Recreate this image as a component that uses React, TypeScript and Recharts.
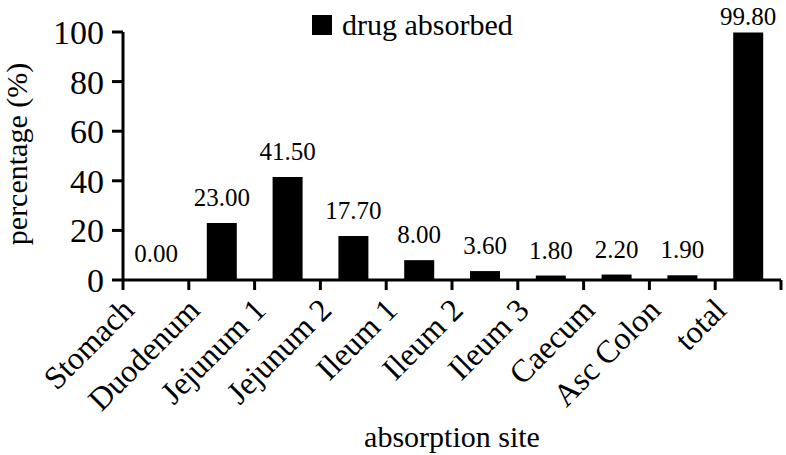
import { Bar, BarChart, LabelList, Legend, XAxis, YAxis, Label } from "recharts";

const sites = [
  "Stomach",
  "Duodenum",
  "Jejunum 1",
  "Jejunum 2",
  "Ileum 1",
  "Ileum 2",
  "Ileum 3",
  "Caecum",
  "Asc Colon",
  "total",
];
const absorbed = [0.0, 23.0, 41.5, 17.7, 8.0, 3.6, 1.8, 2.2, 1.9, 99.8];
const yTicks = [0, 20, 40, 60, 80, 100];

const FONT = '"Liberation Serif", "Times New Roman", serif';

const chartData = sites.map((site, i) => ({ site, absorbed: absorbed[i] }));

// category ticks sit on the band edges, labels hang under the band centre
function SiteTick(props: any) {
  const { x, y, payload, index, visibleTicksCount } = props;
  const half = payload?.offset ?? 33;
  const tx = x - 20;
  const ty = y + 32;
  const isLast = index === (visibleTicksCount ?? sites.length) - 1;
  return (
    <g>
      <line x1={x - half} x2={x - half} y1={y} y2={y + 10} stroke="#000" strokeWidth={3} />
      {isLast && (
        <line x1={x + half} x2={x + half} y1={y} y2={y + 10} stroke="#000" strokeWidth={3} />
      )}
      <text
        x={tx}
        y={ty}
        textAnchor="end"
        transform={`rotate(-45, ${tx}, ${ty})`}
        fontFamily={FONT}
        fontSize={32}
        fill="#000"
      >
        {payload.value}
      </text>
    </g>
  );
}

function PercentTick(props: any) {
  const { x, y, payload } = props;
  return (
    <text
      x={x}
      y={y}
      dy={12}
      textAnchor="end"
      fontFamily={FONT}
      fontSize={34}
      fill="#000"
    >
      {payload.value}
    </text>
  );
}

function ValueLabel(props: any) {
  const { x, y, width, value } = props;
  const baseline = Math.max(y - 17, 25);
  return (
    <text
      x={x + width / 2}
      y={baseline}
      textAnchor="middle"
      fontFamily={FONT}
      fontSize={25}
      fill="#000"
    >
      {Number(value).toFixed(2)}
    </text>
  );
}

function LegendBox() {
  return (
    <div
      style={{
        display: "flex",
        alignItems: "center",
        fontFamily: FONT,
        fontSize: 30,
        lineHeight: "30px",
        color: "#000",
        whiteSpace: "nowrap",
      }}
    >
      <span style={{ display: "inline-block", width: 20, height: 20, background: "#000" }} />
      <span style={{ marginLeft: 10 }}>drug absorbed</span>
    </div>
  );
}

export default function App() {
  return (
    <div style={{ position: "absolute", left: 0, top: 0, background: "#fff" }}>
      <BarChart
        width={786}
        height={455}
        data={chartData}
        margin={{ top: 32, right: 5, bottom: 0, left: 0 }}
      >
        <XAxis
          dataKey="site"
          height={175}
          interval={0}
          tick={<SiteTick />}
          tickLine={false}
          tickSize={0}
          tickMargin={0}
          axisLine={{ stroke: "#000", strokeWidth: 3 }}
        >
          <Label
            value="absorption site"
            position="insideBottom"
            offset={8}
            style={{ fontFamily: FONT, fontSize: 30, fill: "#000" }}
          />
        </XAxis>
        <YAxis
          width={123}
          domain={[0, 100]}
          ticks={yTicks}
          interval={0}
          tickSize={11}
          tickMargin={8}
          tick={<PercentTick />}
          tickLine={{ stroke: "#000", strokeWidth: 3 }}
          axisLine={{ stroke: "#000", strokeWidth: 3 }}
        >
          <Label
            content={() => (
              <text
                x={27}
                y={154}
                textAnchor="middle"
                transform="rotate(-90, 27, 154)"
                fontFamily={FONT}
                fontSize={30}
                fill="#000"
              >
                percentage (%)
              </text>
            )}
          />
        </YAxis>
        <Legend
          layout="horizontal"
          verticalAlign="middle"
          align="center"
          content={<LegendBox />}
          wrapperStyle={{ top: 10, left: 312, width: "auto", height: "auto" }}
        />
        <Bar
          dataKey="absorbed"
          fill="#000"
          barSize={30}
          minPointSize={1}
          isAnimationActive={false}
        >
          <LabelList dataKey="absorbed" content={<ValueLabel />} />
        </Bar>
      </BarChart>
    </div>
  );
}
